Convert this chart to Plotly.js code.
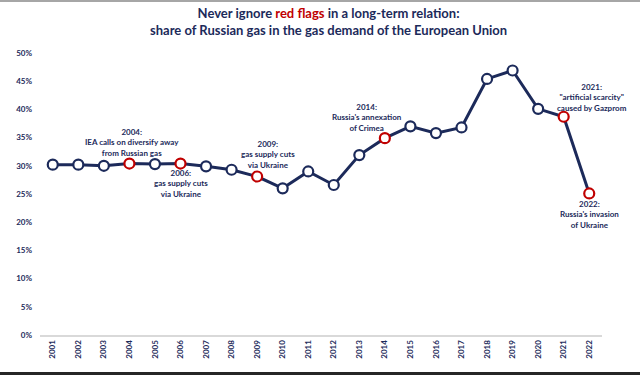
<!DOCTYPE html>
<html>
<head>
<meta charset="utf-8">
<script src="https://cdn.plot.ly/plotly-3.0.1.min.js"></script>
<style>
  html, body { margin: 0; padding: 0; background: #fff; }
  #wrap { position: relative; width: 640px; height: 375px; overflow: hidden; }
  #chart { width: 640px; height: 375px; }
  #topline { position: absolute; left: 0; top: 0; width: 640px; height: 2px; background: #a6a6a6; }
  #botline { position: absolute; left: 0; top: 372px; width: 640px; height: 3px; background: #262626; }
</style>
</head>
<body>
<div id="wrap">
  <div id="chart"></div>
  <div id="topline"></div>
  <div id="botline"></div>
</div>
<script>
// Data
const years = ["2001","2002","2003","2004","2005","2006","2007","2008","2009","2010","2011",
               "2012","2013","2014","2015","2016","2017","2018","2019","2020","2021","2022"];
const russianShare = [30.2, 30.2, 30.0, 30.4, 30.3, 30.4, 29.9, 29.3, 28.1, 26.0, 29.0,
                      26.6, 31.9, 34.9, 37.0, 35.8, 36.8, 45.4, 46.9, 40.1, 38.7, 25.1];
const flagYears = ["2004","2006","2009","2014","2021","2022"];
const flagTexts = [
  "2004:<br>IEA calls on diversify away<br>from Russian gas",
  "2006:<br>gas supply cuts<br>via Ukraine",
  "2009:<br>gas supply cuts<br>via Ukraine",
  "2014:<br>Russia's annexation<br>of Crimea",
  "2021:<br>\"artificial scarcity\"<br>caused by Gazprom",
  "2022:<br>Russia's invasion<br>of Ukraine"
];
const yTickVals = [0, 5, 10, 15, 20, 25, 30, 35, 40, 45, 50];
const titleText = "Never ignore <span style='color:#c00000'>red flags</span> in a long-term relation:<br>share of Russian gas in the gas demand of the European Union";

// styling
const NAVY = "#1c2a5a";
const RED = "#c00000";
const FONT = "Lato, 'Open Sans', sans-serif";
const labelOffsets = {   // pixel offsets of the annotation text from its point
  "2004": [3, 21], "2006": [0, -20], "2009": [11, 22.5],
  "2014": [-18, 21], "2021": [28, 19.5], "2022": [0, -21]
};

const markerLineColors = years.map(y => flagYears.includes(y) ? RED : NAVY);

const trace = {
  type: "scatter",
  mode: "lines+markers",
  x: years,
  y: russianShare,
  line: { color: NAVY, width: 3 },
  marker: { size: 10, color: "#ffffff", line: { color: markerLineColors, width: 2.2 } },
  hoverinfo: "x+y",
  showlegend: false
};

const annotations = flagYears.map((yr, i) => {
  const idx = years.indexOf(yr);
  const off = labelOffsets[yr];
  return {
    x: idx, y: russianShare[idx], xref: "x", yref: "y",
    text: flagTexts[i], showarrow: false,
    xanchor: "center", yanchor: "middle",
    xshift: off[0], yshift: off[1],
    align: "center",
    font: { family: FONT, size: 8, color: NAVY, weight: "bold" }
  };
});

annotations.push({
  xref: "paper", yref: "paper", x: 0.513, y: 1.11,
  xanchor: "center", yanchor: "middle",
  text: titleText, showarrow: false, align: "center",
  font: { family: FONT, size: 13, color: NAVY, weight: "bold" }
});

const layout = {
  width: 640, height: 375,
  margin: { l: 40, r: 38, t: 53, b: 39.5 },
  paper_bgcolor: "#ffffff", plot_bgcolor: "#ffffff",
  title: { text: "" },
  xaxis: {
    type: "category",
    range: [-0.5, 21.5],
    tickangle: -90,
    showgrid: false, zeroline: false,
    showline: true, linecolor: "#d9d9d9", linewidth: 2,
    ticks: "",
    tickfont: { family: FONT, size: 8, color: NAVY, weight: "bold" },
    fixedrange: true
  },
  yaxis: {
    range: [0, 50],
    tickvals: yTickVals,
    ticktext: yTickVals.map(v => v + "%"),
    showgrid: false, zeroline: false, showline: false,
    ticks: "",
    ticklabelstandoff: 7,
    tickfont: { family: FONT, size: 8, color: NAVY, weight: "bold" },
    fixedrange: true
  },
  annotations: annotations,
  font: { family: FONT }
};

Plotly.newPlot("chart", [trace], layout, { displayModeBar: false });
</script>
</body>
</html>
